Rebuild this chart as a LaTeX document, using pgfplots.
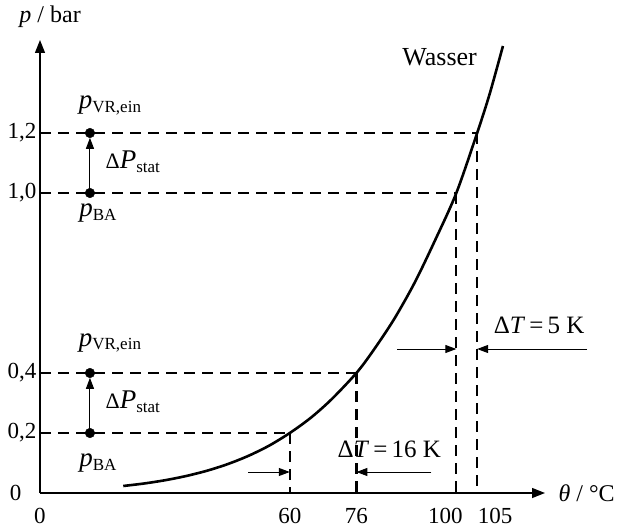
\documentclass[border=0pt]{standalone}
\usepackage{fontspec}
\setmainfont{Liberation Serif}
\usepackage{pgfplots}
\pgfplotsset{compat=1.18}
\usetikzlibrary{arrows.meta}

% Dampfdruckkurve Wasser (bar)
\pgfplotstableread{
T p
20 0.0234
25 0.0317
30 0.0425
35 0.0563
40 0.0738
45 0.0959
50 0.1235
55 0.1576
60 0.2000
65 0.2503
70 0.3119
76 0.4000
80 0.4739
85 0.5783
90 0.7014
95 0.8455
100 1.0000
105 1.2000
108 1.3300
111.2 1.4900
}\wasser

\newcommand{\lab}{\fontsize{24}{27}\selectfont}
\newcommand{\gr}[1]{{\fontsize{27}{27}\selectfont\textit{#1}}}
\newcommand{\dl}{{\fontsize{22}{22}\selectfont Δ}}
\newcommand{\sub}[1]{\raisebox{-0.35ex}{\fontsize{17}{17}\selectfont #1}}

\begin{document}
\begin{tikzpicture}
\begin{axis}[
    name=ax,
    scale only axis,
    width=505pt, height=453pt,
    xmin=0, xmax=121.3,
    ymin=0, ymax=1.51,
    axis x line=bottom, axis y line=left,
    axis line style={line width=1.4pt, -{Triangle[length=13pt,width=10pt]}},
    xtick={0,60,76,100,105},
    xticklabels={0,60,76,\hspace*{-22pt}100,\hspace*{36pt}105},
    ytick={0,0.2,0.4,1.0,1.2},
    yticklabels={0\hspace*{15pt},{0,2},{0,4},{1,0},{1,2}},
    major tick length=0pt,
    /pgf/number format/assume math mode=true,
    tick label style={font=\fontsize{23}{25}\selectfont},
    xticklabel style={yshift=-12pt},
    clip=false,
]
% Kurve
\addplot[line width=2.6pt, smooth] table[x=T, y=p] {\wasser};

% gestrichelte Hilfslinien
\pgfplotsset{hilfs/.style={line width=2.3pt, dash pattern=on 11pt off 7pt}}
\addplot[hilfs] coordinates {(0,0.2) (60,0.2)};
\addplot[hilfs] coordinates {(0,0.4) (76,0.4)};
\addplot[hilfs] coordinates {(0,1.0) (100,1.0)};
\addplot[hilfs] coordinates {(0,1.2) (105,1.2)};
\addplot[hilfs] coordinates {(60,0.2) (60,0)};
\addplot[hilfs] coordinates {(76,0.4) (76,0)};
\addplot[hilfs] coordinates {(100,1.0) (100,0)};
\addplot[hilfs] coordinates {(105,1.2) (105,0)};

% Punkte und Druckpfeile
\addplot[only marks, mark=*, mark size=4.8pt, black] coordinates {(12,0.2) (12,0.4) (12,1.0) (12,1.2)};
\addplot[line width=1pt, -{Triangle[length=11pt,width=8pt]}] coordinates {(12,0.2) (12,0.384)};
\addplot[line width=1pt, -{Triangle[length=11pt,width=8pt]}] coordinates {(12,1.0) (12,1.184)};

% Temperaturpfeile
\addplot[line width=1pt, -{Triangle[length=11pt,width=8pt]}] coordinates {(50,0.07) (60,0.07)};
\addplot[line width=1pt, -{Triangle[length=11pt,width=8pt]}] coordinates {(94,0.07) (76,0.07)};
\addplot[line width=1pt, -{Triangle[length=11pt,width=8pt]}] coordinates {(85.8,0.48) (100,0.48)};
\addplot[line width=1pt, -{Triangle[length=11pt,width=8pt]}] coordinates {(131.4,0.48) (105,0.48)};

% Beschriftungen
\node[font=\lab] at (axis cs:16.8,1.293) {\gr{p}\sub{VR,ein}};
\node[font=\lab] at (axis cs:22.3,1.103) {\dl\gr{P}\sub{stat}};
\node[font=\lab] at (axis cs:13.9,0.933) {\gr{p}\sub{BA}};
\node[font=\lab] at (axis cs:16.8,0.5) {\gr{p}\sub{VR,ein}};
\node[font=\lab] at (axis cs:22.3,0.303) {\dl\gr{P}\sub{stat}};
\node[font=\lab] at (axis cs:13.9,0.1) {\gr{p}\sub{BA}};
\node[font=\fontsize{25}{28}\selectfont] at (axis cs:83.9,0.147) {Δ\textit{T}\,=\,16 K};
\node[font=\fontsize{25}{28}\selectfont] at (axis cs:119.9,0.56) {Δ\textit{T}\,=\,5 K};
\node[font=\fontsize{26}{29}\selectfont] at (axis cs:96,1.453) {Wasser};
\node[font=\lab, anchor=west] at (rel axis cs:1.02,0) {\textit{θ} / °C};
\node[font=\lab] at (rel axis cs:0.02,1.051) {\textit{p} / bar};
\end{axis}
\pgfresetboundingbox
\useasboundingbox ([xshift=-40pt,yshift=-35pt]ax.south west) rectangle ([xshift=73pt,yshift=40pt]ax.north east);
\end{tikzpicture}
\end{document}
